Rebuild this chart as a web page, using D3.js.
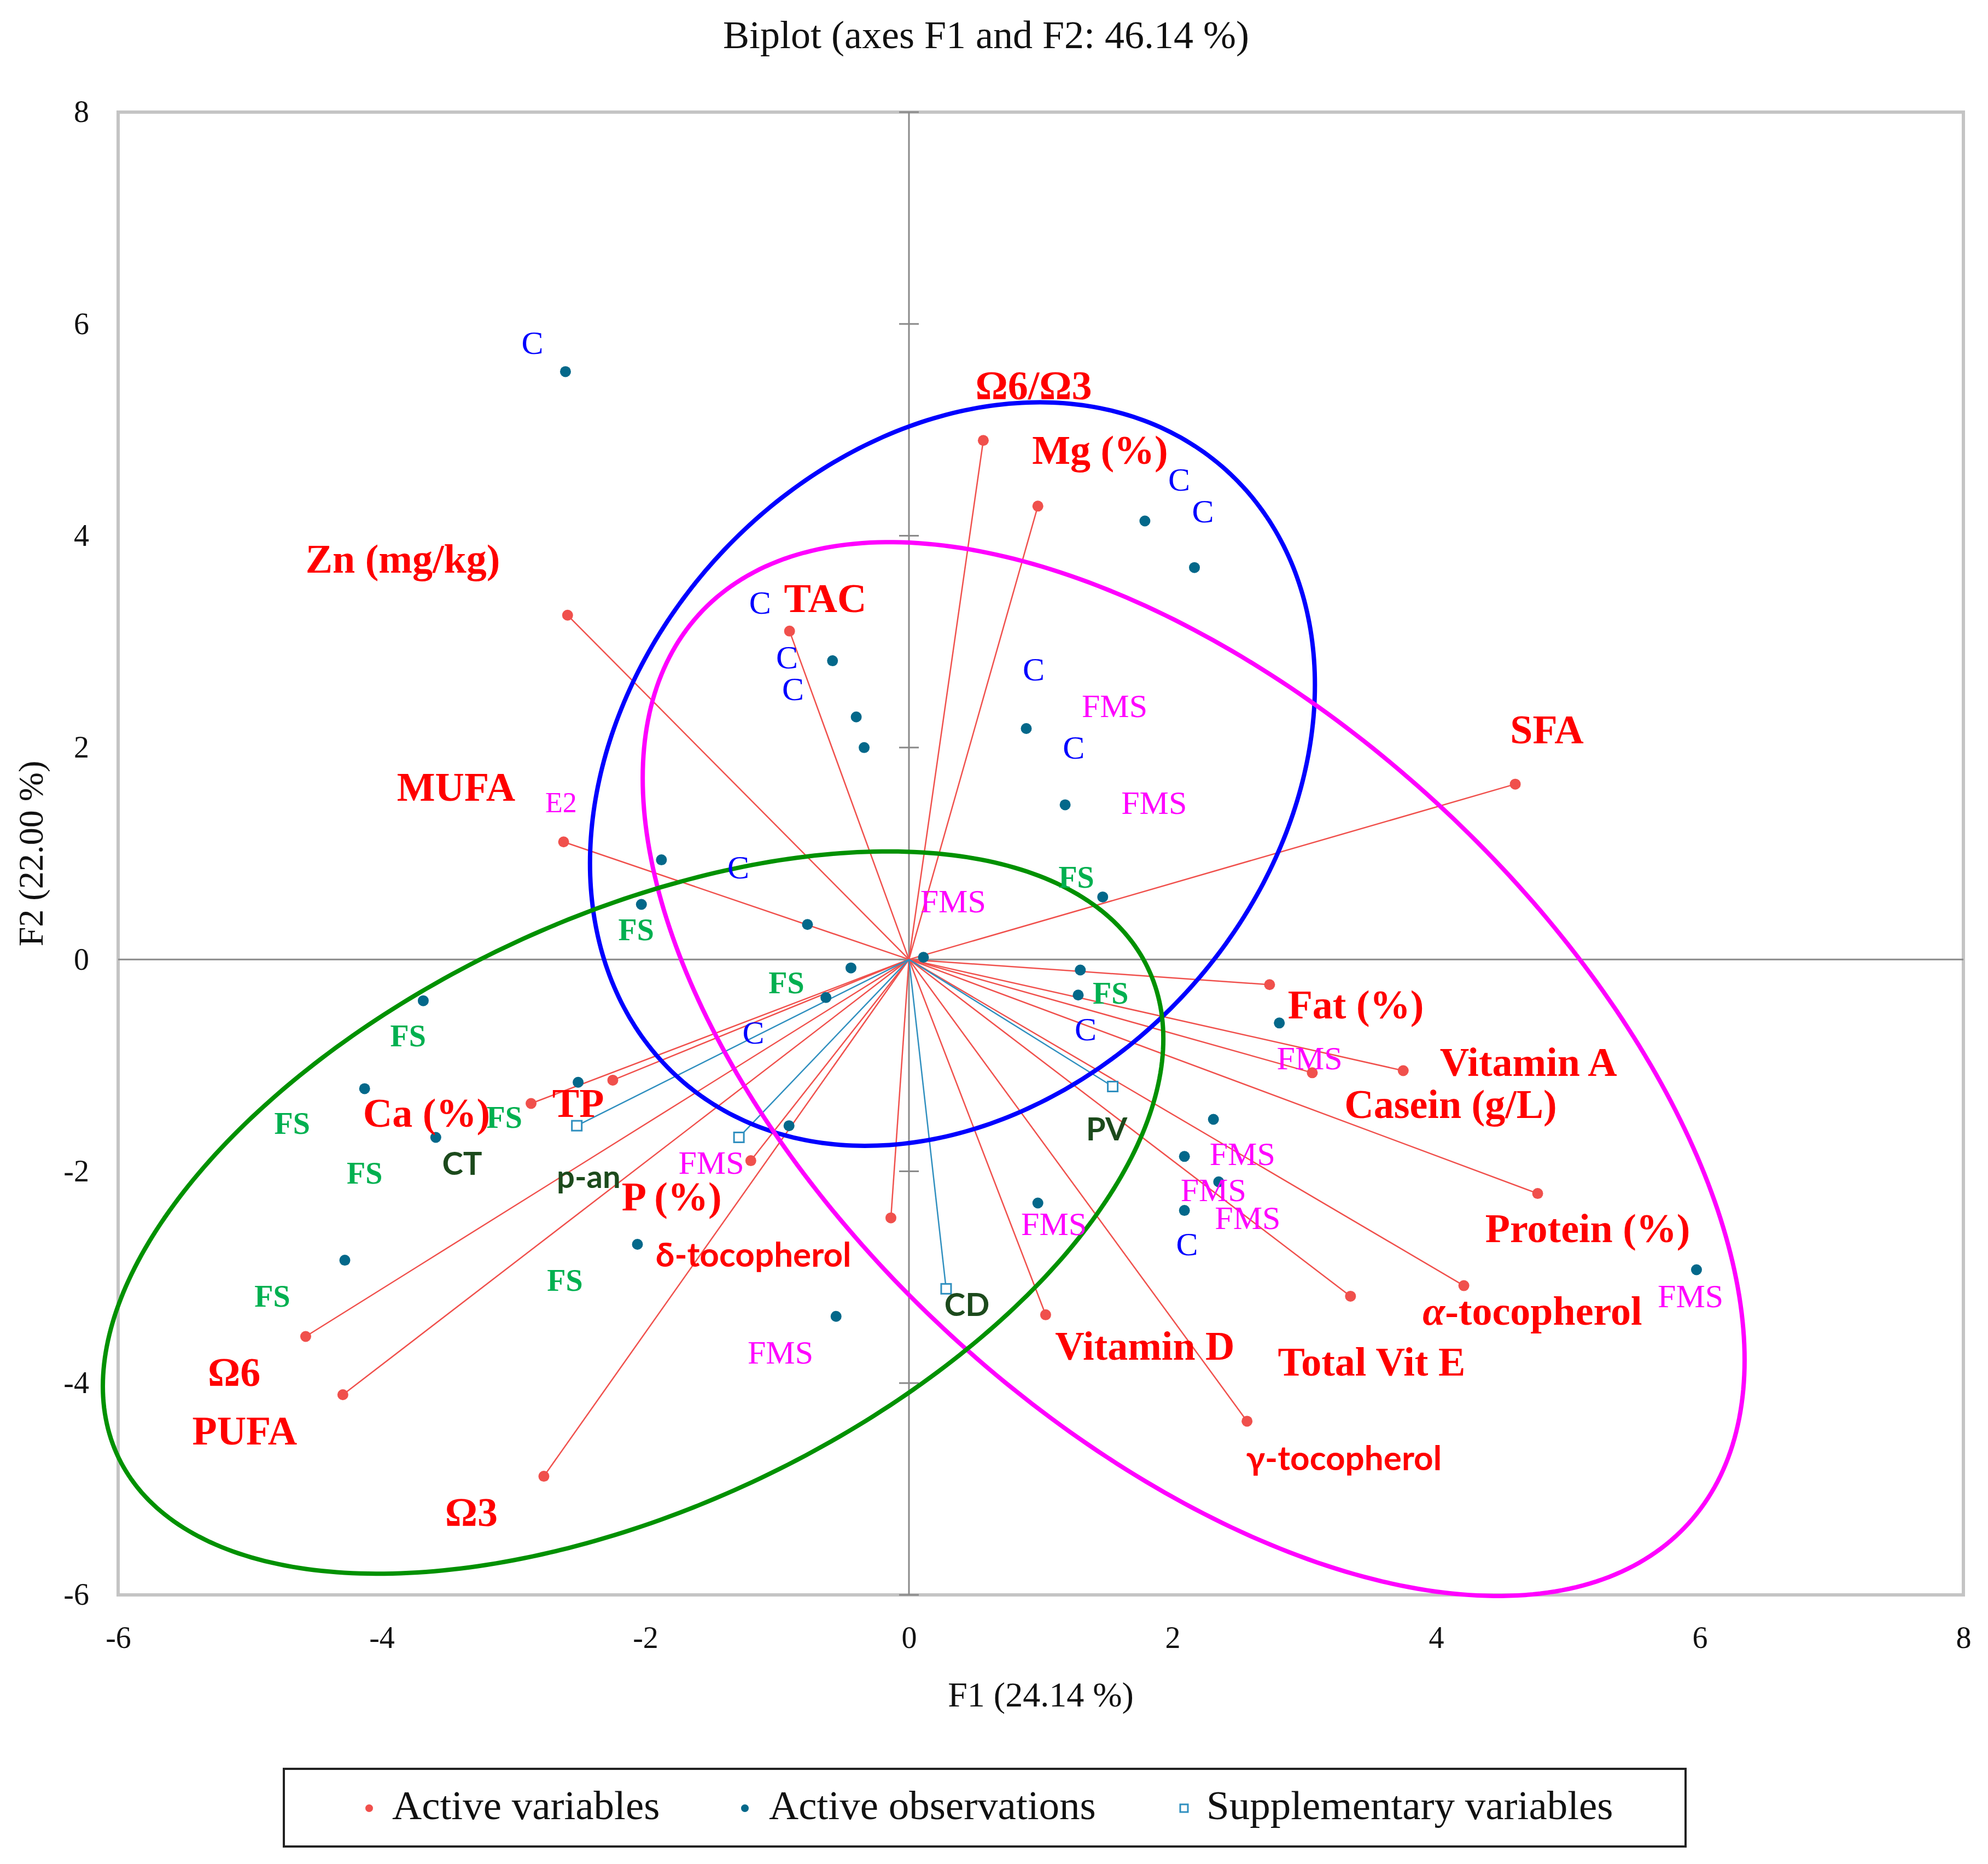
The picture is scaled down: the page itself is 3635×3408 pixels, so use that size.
<!DOCTYPE html>
<html>
<head>
<meta charset="utf-8">
<script src="https://cdn.jsdelivr.net/npm/d3@7"></script>
<style>
  html, body { margin: 0; padding: 0; background: #ffffff; }
  svg { display: block; }
</style>
</head>
<body>
<svg id="chart" width="3635" height="3408"></svg>
<script>
// ---------------- DATA ----------------
const titleText = "Biplot (axes F1 and F2: 46.14 %)";
const xTitle = "F1 (24.14 %)";
const yTitle = "F2 (22.00 %)";
const xTicks = [-6, -4, -2, 0, 2, 4, 6, 8];
const yTicks = [-6, -4, -2, 0, 2, 4, 6, 8];

// Active variables (end points of the loading vectors)
const varNames = ["Ω6/Ω3", "Mg (%)", "Zn (mg/kg)", "TAC", "SFA", "MUFA", "Fat (%)", "Vitamin A",
  "Casein (g/L)", "Protein (%)", "α-tocopherol", "Total Vit E", "γ-tocopherol", "Vitamin D",
  "δ-tocopherol", "P (%)", "TP", "Ca (%)", "Ω6", "PUFA", "Ω3"];
const varF1 = [0.564, 0.978, -2.59, -0.906, 4.60, -2.62, 2.736, 3.75, 3.06, 4.77, 4.21, 3.35, 2.565, 1.037,
  -0.137, -1.20, -2.247, -2.867, -4.577, -4.295, -2.77];
const varF2 = [4.90, 4.28, 3.25, 3.10, 1.655, 1.11, -0.238, -1.05, -1.07, -2.21, -3.08, -3.18, -4.36, -3.355,
  -2.44, -1.90, -1.14, -1.36, -3.56, -4.11, -4.88];
// label positions (data coordinates)
const varLabF1 = [0.946, 1.45, -3.84, -0.635, 4.84, -3.436, 3.39, 4.70, 4.11, 5.15, 4.73, 3.51, 3.30, 1.79,
  -1.18, -1.80, -2.51, -3.66, -5.12, -5.04, -3.32];
const varLabF2 = [5.42, 4.81, 3.78, 3.41, 2.17, 1.63, -0.43, -0.97, -1.37, -2.54, -3.32, -3.80, -4.70, -3.65,
  -2.78, -2.24, -1.36, -1.45, -3.90, -4.45, -5.22];
const varLabSans = ["γ-tocopherol", "δ-tocopherol"];

// Active observations
const obsF1 = [-2.606, 1.79, 2.166, -0.58, -0.40, -0.34, 0.89, 1.185, -1.878, -2.03, -0.77, 1.47, 0.11,
  -0.44, -0.63, 1.30, 1.284, -3.685, 2.81, -4.13, -2.51, -3.59, -0.91, 2.31, 2.09, 2.35, 0.978, 2.09,
  -2.06, -4.28, -0.553, 5.975];
const obsF2 = [5.55, 4.14, 3.70, 2.82, 2.29, 2.00, 2.18, 1.46, 0.94, 0.52, 0.33, 0.59, 0.02, -0.08, -0.36,
  -0.10, -0.336, -0.39, -0.60, -1.22, -1.16, -1.68, -1.57, -1.51, -1.86, -2.10, -2.30, -2.37, -2.69,
  -2.84, -3.37, -2.93];

// Observation group labels
const obsLabText = ["C", "C", "C", "C", "C", "C", "C", "C", "C", "C", "C", "C",
  "FMS", "FMS", "FMS", "FMS", "FMS", "FMS", "FMS", "FMS", "FMS", "FMS", "FMS",
  "FS", "FS", "FS", "FS", "FS", "FS", "FS", "FS", "FS", "FS", "E2"];
const obsLabF1 = [-2.857, 2.05, 2.23, -1.13, -0.925, -0.88, 0.946, 1.25, -1.295, -1.18, 1.34, 2.11,
  1.56, 1.86, 0.335, 3.04, 2.53, 2.31, 2.57, 1.10, -1.50, -0.975, 5.93,
  1.27, -2.07, -0.93, 1.53, -3.80, -4.68, -3.07, -4.13, -4.83, -2.61, -2.64];
const obsLabF2 = [5.82, 4.53, 4.23, 3.37, 2.85, 2.55, 2.74, 2.00, 0.87, -0.69, -0.66, -2.69,
  2.39, 1.48, 0.55, -0.935, -1.84, -2.18, -2.44, -2.50, -1.92, -3.71, -3.18,
  0.775, 0.28, -0.22, -0.32, -0.72, -1.55, -1.49, -2.02, -3.18, -3.03, 1.48];

// Supplementary variables
const supNames = ["CT", "p-an", "PV", "CD"];
const supF1 = [-2.52, -1.29, 1.546, 0.282];
const supF2 = [-1.57, -1.68, -1.20, -3.11];
const supLabF1 = [-3.39, -2.43, 1.50, 0.44];
const supLabF2 = [-1.92, -2.04, -1.59, -3.25];

// Group ellipses: x = cx + a cos t, y = cy + b cos(t - acos(c))
const ellNames = ["C", "FMS", "FS"];
const ellCx = [0.33, 2.16, -2.093];
const ellCy = [1.75, -1.035, -2.39];
const ellA = [2.75, 4.18, 4.023];
const ellB = [3.51, 4.975, 3.41];
const ellC = [0.24, -0.552, 0.481];

const legendLabels = ["Active variables", "Active observations", "Supplementary variables"];

// ---------------- STYLES ----------------
const serif = "'Liberation Serif', 'DejaVu Serif', serif";
const sans = "Lato, 'Liberation Sans', sans-serif";
const colVarText = "#ff0000";
const colVar = "#f0504c";
const colObs = "#03688a";
const colSup = "#2f8fbf";
const colSupText = "#1c4a1c";
const obsLabColor = { "C": "#0000ff", "FMS": "#ff00ff", "FS": "#00b050", "E2": "#ff00ff" };
const ellColor = ["#0000ff", "#ff00ff", "#009100"];

// ---------------- CHART ----------------
const svg = d3.select("#chart");
const x = d3.scaleLinear().domain([-6, 8]).range([216, 3590]);
const y = d3.scaleLinear().domain([-6, 8]).range([2916, 205]);

// title
svg.append("text").attr("x", 1803).attr("y", 88).attr("text-anchor", "middle")
  .style("font-family", serif).style("font-size", "72px").attr("fill", "#111").text(titleText);

// frame
svg.append("rect").attr("x", x(-6)).attr("y", y(8)).attr("width", x(8) - x(-6)).attr("height", y(-6) - y(8))
  .attr("fill", "none").attr("stroke", "#c4c4c4").attr("stroke-width", 6);

// zero lines
svg.append("line").attr("x1", x(-6)).attr("x2", x(8)).attr("y1", y(0)).attr("y2", y(0))
  .attr("stroke", "#8a8a8a").attr("stroke-width", 3);
svg.append("line").attr("x1", x(0)).attr("x2", x(0)).attr("y1", y(8)).attr("y2", y(-6))
  .attr("stroke", "#8a8a8a").attr("stroke-width", 3);
svg.append("g").selectAll("line").data(yTicks).join("line")
  .attr("x1", x(0) - 18).attr("x2", x(0) + 18).attr("y1", d => y(d)).attr("y2", d => y(d))
  .attr("stroke", "#8a8a8a").attr("stroke-width", 3);

// axes (labels only)
const axL = svg.append("g").attr("transform", `translate(${x(-6)},0)`)
  .call(d3.axisLeft(y).tickValues(yTicks).tickSize(0).tickPadding(53).tickFormat(d => String(d)));
const axB = svg.append("g").attr("transform", `translate(0,${y(-6)})`)
  .call(d3.axisBottom(x).tickValues(xTicks).tickSize(0).tickPadding(57).tickFormat(d => String(d)));
[axL, axB].forEach(g => {
  g.select(".domain").remove();
  g.selectAll("text").style("font-family", serif).style("font-size", "56px").attr("fill", "#111");
});

// axis titles
svg.append("text").attr("x", (x(-6) + x(8)) / 2).attr("y", 3120).attr("text-anchor", "middle")
  .style("font-family", serif).style("font-size", "64px").attr("fill", "#111").text(xTitle);
svg.append("text").attr("transform", `translate(78,${(y(8) + y(-6)) / 2}) rotate(-90)`).attr("text-anchor", "middle")
  .style("font-family", serif).style("font-size", "64px").attr("fill", "#111").text(yTitle);

// vectors: active variables
const vars = varNames.map((n, i) => ({ n, f1: varF1[i], f2: varF2[i], lf1: varLabF1[i], lf2: varLabF2[i] }));
svg.append("g").selectAll("line").data(vars).join("line")
  .attr("x1", x(0)).attr("y1", y(0)).attr("x2", d => x(d.f1)).attr("y2", d => y(d.f2))
  .attr("stroke", colVar).attr("stroke-width", 2.5);

// vectors: supplementary variables
const sups = supNames.map((n, i) => ({ n, f1: supF1[i], f2: supF2[i], lf1: supLabF1[i], lf2: supLabF2[i] }));
svg.append("g").selectAll("line").data(sups).join("line")
  .attr("x1", x(0)).attr("y1", y(0)).attr("x2", d => x(d.f1)).attr("y2", d => y(d.f2))
  .attr("stroke", colSup).attr("stroke-width", 2.5);

// points
svg.append("g").selectAll("circle").data(vars).join("circle")
  .attr("cx", d => x(d.f1)).attr("cy", d => y(d.f2)).attr("r", 10).attr("fill", colVar);
const obs = obsF1.map((v, i) => ({ f1: v, f2: obsF2[i] }));
svg.append("g").selectAll("circle").data(obs).join("circle")
  .attr("cx", d => x(d.f1)).attr("cy", d => y(d.f2)).attr("r", 10).attr("fill", colObs);
svg.append("g").selectAll("rect").data(sups).join("rect")
  .attr("x", d => x(d.f1) - 9).attr("y", d => y(d.f2) - 9).attr("width", 18).attr("height", 18)
  .attr("fill", "#fff").attr("stroke", colSup).attr("stroke-width", 3);

// ellipses
const ells = ellNames.map((n, i) => ({ n, cx: ellCx[i], cy: ellCy[i], a: ellA[i], b: ellB[i], d: Math.acos(ellC[i]), col: ellColor[i] }));
const line = d3.line().curve(d3.curveLinearClosed);
svg.append("g").selectAll("path").data(ells).join("path")
  .attr("d", e => line(d3.range(0, 360, 1).map(k => {
    const t = k * Math.PI / 180;
    return [x(e.cx + e.a * Math.cos(t)), y(e.cy + e.b * Math.cos(t - e.d))];
  })))
  .attr("fill", "none").attr("stroke", e => e.col).attr("stroke-width", 8);

// variable labels
const vt = svg.append("g").selectAll("text").data(vars).join("text")
  .attr("x", d => x(d.lf1)).attr("y", d => y(d.lf2)).attr("text-anchor", "middle").attr("dominant-baseline", "central")
  .attr("fill", colVarText)
  .style("font-family", d => varLabSans.includes(d.n) ? sans : serif)
  .style("font-weight", "bold")
  .style("font-size", d => varLabSans.includes(d.n) ? "62px" : "74px");
vt.each(function (d) {
  const t = d3.select(this);
  if (d.n.startsWith("α")) {
    t.append("tspan").style("font-style", "italic").text("α");
    t.append("tspan").text(d.n.slice(1));
  } else {
    t.text(d.n);
  }
});

// supplementary labels
svg.append("g").selectAll("text").data(sups).join("text")
  .attr("x", d => x(d.lf1)).attr("y", d => y(d.lf2)).attr("text-anchor", "middle").attr("dominant-baseline", "central")
  .attr("fill", colSupText).style("font-family", sans).style("font-weight", "bold").style("font-size", "58px")
  .text(d => d.n);

// observation labels
const obsLabs = obsLabText.map((t, i) => ({ t, f1: obsLabF1[i], f2: obsLabF2[i] }));
svg.append("g").selectAll("text").data(obsLabs).join("text")
  .attr("x", d => x(d.f1)).attr("y", d => y(d.f2)).attr("text-anchor", "middle").attr("dominant-baseline", "central")
  .attr("fill", d => obsLabColor[d.t]).style("font-family", serif)
  .style("font-weight", d => d.t === "FS" ? "bold" : "normal")
  .style("font-size", d => d.t === "E2" ? "52px" : (d.t === "FS" ? "56px" : "60px"))
  .text(d => d.t);

// legend
const lg = svg.append("g");
lg.append("rect").attr("x", 519).attr("y", 3234).attr("width", 2563).attr("height", 142)
  .attr("fill", "#fff").attr("stroke", "#222").attr("stroke-width", 4);
const legX = [675, 1362, 2165];
const legTextX = [717, 1406, 2206];
lg.append("circle").attr("cx", legX[0]).attr("cy", 3306).attr("r", 7).attr("fill", colVar);
lg.append("circle").attr("cx", legX[1]).attr("cy", 3306).attr("r", 7).attr("fill", colObs);
lg.append("rect").attr("x", legX[2] - 7).attr("y", 3299).attr("width", 14).attr("height", 14)
  .attr("fill", "#fff").attr("stroke", colSup).attr("stroke-width", 3);
lg.selectAll("text").data(legendLabels).join("text")
  .attr("x", (d, i) => legTextX[i]).attr("y", 3326)
  .style("font-family", serif).style("font-size", "75px").attr("fill", "#111").text(d => d);
</script>
</body>
</html>
